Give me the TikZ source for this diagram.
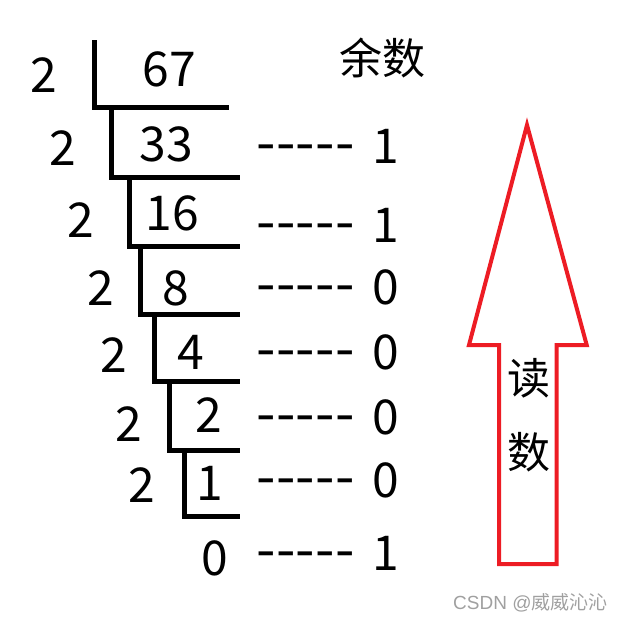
\documentclass[tikz,border=0pt]{standalone}
\usepackage{fontspec}
\setmainfont{Noto Sans CJK SC}
\newfontfamily\cjk{Noto Sans CJK SC}
\newfontfamily\wmfont{Liberation Sans}
\definecolor{arrowred}{RGB}{237,28,36}
\definecolor{wmgray}{RGB}{160,160,160}
\begin{document}
\begin{tikzpicture}[x=1pt,y=-1pt,
  num/.style={inner sep=0pt,font=\fontsize{48}{48}\selectfont},
  cjktext/.style={inner sep=0pt,font=\cjk\fontsize{43}{43}\selectfont},
  dashtext/.style={inner sep=0pt,anchor=base west,font=\fontsize{56}{56}\selectfont},
  remtext/.style={inner sep=0pt,anchor=base,font=\fontsize{48}{48}\selectfont},
  bracket/.style={line width=5pt,line join=miter,line cap=butt},
  bigarrow/.style={draw=arrowred,line width=4pt,line join=miter}]
\useasboundingbox (0,0) rectangle (619,622);
% division brackets
\coordinate (t0) at (94.8,40);
\draw[bracket] (t0) -- (94.8,107.5) -- (229,107.5);
\draw[bracket] (111.2,107.5) -- (111.2,177.5) -- (240,177.5);
\draw[bracket] (129.2,177.5) -- (129.2,246.5) -- (240,246.5);
\draw[bracket] (140,246.5) -- (140,314.5) -- (240,314.5);
\draw[bracket] (154,314.5) -- (154,381.5) -- (240,381.5);
\draw[bracket] (169.8,381.5) -- (169.8,450.5) -- (240,450.5);
\draw[bracket] (184.2,450.5) -- (184.2,516) -- (240,516);
% divisors
\node[num] (d1) at (44,75) {2};
\node[num] (d2) at (63,148) {2};
\node[num] (d3) at (81,220) {2};
\node[num] (d4) at (101,288) {2};
\node[num] (d5) at (113.5,355) {2};
\node[num] (d6) at (129,424) {2};
\node[num] (d7) at (142,485) {2};
% quotients
\node[num] (q0) at (169,69.5) {67};
\node[num] (q1) at (166,144) {33};
\node[num] (q2) at (172,213) {16};
\node[num] (q3) at (175.5,288) {8};
\node[num] (q4) at (191,352) {4};
\node[num] (q5) at (209,415) {2};
\node[num] (q6) at (210,483) {1};
\node[num] (q7) at (215,558) {0};
% header
\node[cjktext] (hdr) at (382,58) {余数};
% dashes and remainders
\foreach \yb/\r [count=\i] in {163/1,242/1,304/0,369/0,434/0,497/0,570/1}{
  \node[dashtext] (dash\i) at (256,\yb-1) {\hbox to 99pt{-\hfil-\hfil-\hfil-\hfil-}};
  \node[remtext] (rem\i) at (386,\yb) {\r};
}
% arrow
\draw[bigarrow] (527,125) -- (586.7,345) -- (556.7,345) -- (556.7,564)
  -- (499,564) -- (499,345) -- (469,345) -- cycle;
\node[cjktext] (read1) at (529,378) {读};
\node[cjktext] (read2) at (529,452) {数};
% watermark
\node[inner sep=0pt,anchor=west,text=wmgray,font=\wmfont\fontsize{19}{19}\selectfont] (wm) at (453,603) {CSDN @{\cjk 威威沁沁}};
\end{tikzpicture}
\end{document}
